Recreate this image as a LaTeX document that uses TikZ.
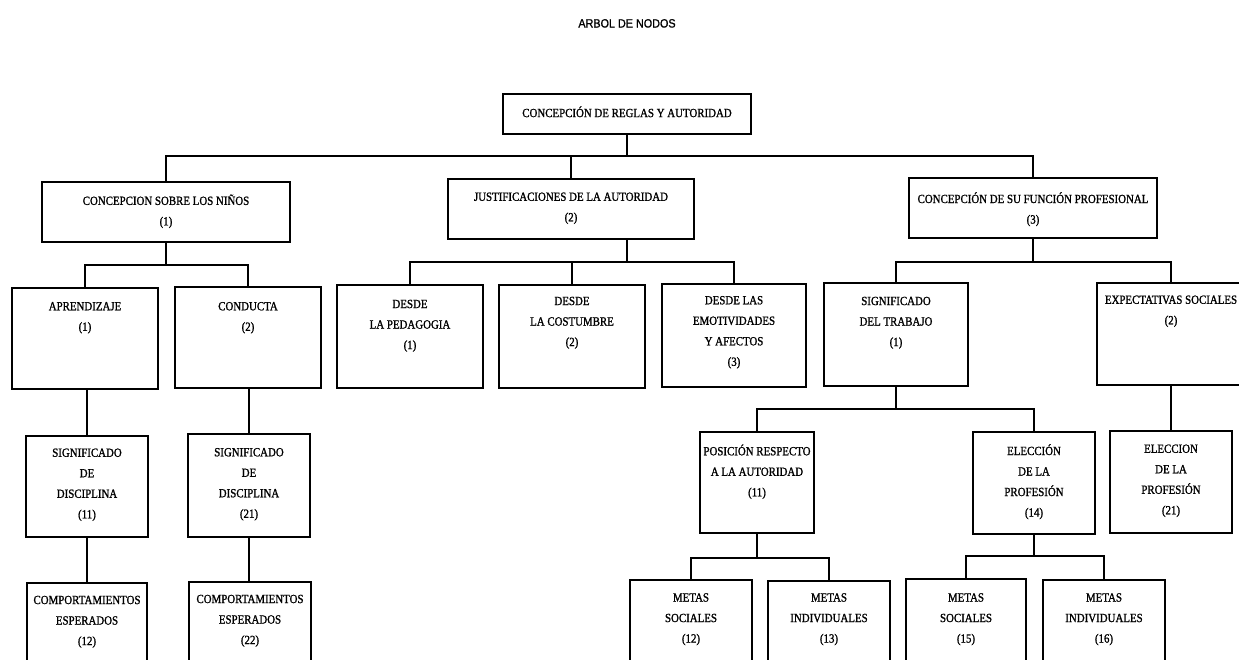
\documentclass[tikz,border=0pt]{standalone}
\usepackage{fontspec}
\newfontfamily\boxfont{Liberation Serif}[FakeStretch=0.87,FakeBold=1.2]
\newfontfamily\titlefont{Liberation Sans}[FakeStretch=0.9,FakeBold=1.2]
\newcommand\mkbox[5]{\node[box,minimum width={(#4)-(#2)},minimum height={(#5)-(#3)}] (#1) at ({((#2)+(#4))/2},{((#3)+(#5))/2}) {};}
\begin{document}
\begin{tikzpicture}[x=1pt,y=-1pt,
  box/.style={draw=black,line width=2pt,inner sep=0pt},
  txt/.style={font=\boxfont\fontsize{12.5}{20.5}\selectfont,align=center,inner sep=0pt,
    execute at begin node=\strut,execute at end node=\strut},
  link/.style={line width=2pt}]
\useasboundingbox (0,0) rectangle (1239,659);
\clip (0,0) rectangle (1239,659);

\node[font=\titlefont\fontsize{12}{14}\selectfont,inner sep=0pt,anchor=base] (title) at (627,27.5) {ARBOL DE NODOS};

% boxes
\mkbox{root}{503}{94}{751}{134}
\mkbox{n1}{42}{182}{290}{242}
\mkbox{n2}{448}{179}{694}{239}
\mkbox{n3}{909}{178}{1157}{238}
\mkbox{a1}{12}{288}{158}{389}
\mkbox{a2}{175}{287}{321}{388}
\mkbox{b1}{337}{285}{483}{388}
\mkbox{b2}{499}{285}{645}{388}
\mkbox{b3}{662}{284}{806}{387}
\mkbox{c1}{824}{283}{968}{386}
\mkbox{c2}{1097}{283}{1245}{385}
\mkbox{d11}{26}{436}{148}{537}
\mkbox{d21}{188}{434}{310}{537}
\mkbox{e12}{27}{583}{147}{700}
\mkbox{e22}{189}{582}{311}{700}
\mkbox{p11}{700}{432}{814}{533}
\mkbox{p14}{973}{432}{1095}{534}
\mkbox{p21}{1110}{431}{1232}{533}
\mkbox{m12}{630}{580}{752}{700}
\mkbox{m13}{768}{581}{890}{700}
\mkbox{m15}{906}{579}{1026}{700}
\mkbox{m16}{1043}{580}{1165}{700}

% texts
\node[txt] (t-root) at (627,113) {CONCEPCIÓN DE REGLAS Y AUTORIDAD};
\node[txt] (t-n1) at (166,213) {CONCEPCION SOBRE LOS NIÑOS\\(1)};
\node[txt] (t-n2) at (571,210) {JUSTIFICACIONES DE LA AUTORIDAD\\(2)};
\node[txt] (t-n3) at (1033,211) {CONCEPCIÓN DE SU FUNCIÓN PROFESIONAL\\(3)};
\node[txt] (t-a1) at (85,319.5) {APRENDIZAJE\\(1)};
\node[txt] (t-a2) at (248,319.5) {CONDUCTA\\(2)};
\node[txt] (t-b1) at (410,327.5) {DESDE\\LA PEDAGOGIA\\(1)};
\node[txt] (t-b2) at (572,324.5) {DESDE\\LA COSTUMBRE\\(2)};
\node[txt] (t-b3) at (734,334) {DESDE LAS\\EMOTIVIDADES\\Y AFECTOS\\(3)};
\node[txt] (t-c1) at (896,324.5) {SIGNIFICADO\\DEL TRABAJO\\(1)};
\node[txt] (t-c2) at (1171,313) {EXPECTATIVAS SOCIALES\\(2)};
\node[txt] (t-d11) at (87,486.5) {SIGNIFICADO\\DE\\DISCIPLINA\\(11)};
\node[txt] (t-d21) at (249,486) {SIGNIFICADO\\DE\\DISCIPLINA\\(21)};
\node[txt] (t-e12) at (87,623.5) {COMPORTAMIENTOS\\ESPERADOS\\(12)};
\node[txt] (t-e22) at (250,622.5) {COMPORTAMIENTOS\\ESPERADOS\\(22)};
\node[txt] (t-p11) at (757,473.5) {POSICIÓN RESPECTO\\A LA AUTORIDAD\\(11)};
\node[txt] (t-p14) at (1034,483.5) {ELECCIÓN\\DE LA\\PROFESIÓN\\(14)};
\node[txt] (t-p21) at (1171,482.5) {ELECCION\\DE LA\\PROFESIÓN\\(21)};
\node[txt] (t-m12) at (691,621) {METAS\\SOCIALES\\(12)};
\node[txt] (t-m13) at (829,621) {METAS\\INDIVIDUALES\\(13)};
\node[txt] (t-m15) at (966,621) {METAS\\SOCIALES\\(15)};
\node[txt] (t-m16) at (1104,621) {METAS\\INDIVIDUALES\\(16)};

% connectors
\coordinate (j0) at (627,156);
\draw[link] (root.south) -- (j0);
\draw[link] (n1.north) |- (j0) -| (n3.north);
\draw[link] (n2.north) -- (n2.north |- j0);

\coordinate (j1) at (166,265);
\draw[link] (n1.south) -- (n1.south |- j1);
\draw[link] (a1.north) |- (j1) -| (a2.north);

\coordinate (j2) at (627,262);
\draw[link] (root.south |- n2.south) -- (j2);
\draw[link] (b1.north) |- (j2) -| (b3.north);
\draw[link] (b2.north) -- (b2.north |- j2);

\coordinate (j3) at (1033,262);
\draw[link] (n3.south) -- (n3.south |- j3);
\draw[link] (c1.north) |- (j3) -| (c2.north);

\draw[link] (d11.north |- a1.south) -- (d11.north);
\draw[link] (d11.south) -- (d11.south |- e12.north);
\draw[link] (d21.north |- a2.south) -- (d21.north);
\draw[link] (d21.south) -- (d21.south |- e22.north);

\coordinate (j4) at (896,409);
\draw[link] (c1.south) -- (j4);
\draw[link] (p11.north) |- (j4) -| (p14.north);
\draw[link] (c2.south) -- (c2.south |- p21.north);

\coordinate (j5) at (757,558);
\draw[link] (p11.south) -- (j5);
\draw[link] (m12.north) |- (j5) -| (m13.north);

\coordinate (j6) at (1034,556);
\draw[link] (p14.south) -- (j6);
\draw[link] (m15.north) |- (j6) -| (m16.north);
\end{tikzpicture}
\end{document}
